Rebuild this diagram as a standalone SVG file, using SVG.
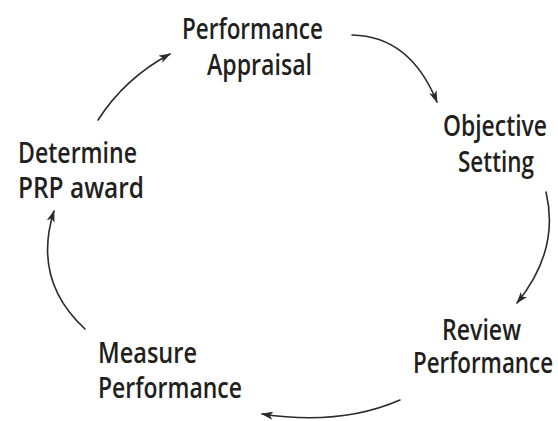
<svg xmlns="http://www.w3.org/2000/svg" width="558" height="421" viewBox="0 0 558 421">
  <style>
    .lbl { font-family: "Open Sans", "Noto Sans", "Liberation Sans", sans-serif; font-size: 29px; font-weight: 600; fill: #231f20; }
    .conn { fill: none; stroke: #2b2b2b; stroke-width: 1.6; stroke-linecap: round; }
  </style>
  <defs>
    <marker id="head" viewBox="0 0 12 8" refX="11" refY="4" markerWidth="12" markerHeight="8" markerUnits="userSpaceOnUse" orient="auto">
      <path d="M0,0 L12,4 L0,8 L3,4 Z" fill="#2b2b2b"/>
    </marker>
  </defs>
  <rect width="558" height="421" fill="#ffffff"/>

  <g id="connectors">
    <path class="conn" d="M352,35 Q410,36 437,102" marker-end="url(#head)"/>
    <path class="conn" d="M546,192 Q560,250 517,303" marker-end="url(#head)"/>
    <path class="conn" d="M400,400 Q340,426 262,414" marker-end="url(#head)"/>
    <path class="conn" d="M85,329 Q32,280 54,211" marker-end="url(#head)"/>
    <path class="conn" d="M98,120 Q125,78 170,54" marker-end="url(#head)"/>
  </g>

  <g id="performance-appraisal">
    <text class="lbl" x="182" y="39" textLength="141" lengthAdjust="spacingAndGlyphs">Performance</text>
    <text class="lbl" x="207" y="75" textLength="105" lengthAdjust="spacingAndGlyphs">Appraisal</text>
  </g>
  <g id="objective-setting">
    <text class="lbl" x="443" y="136" textLength="104" lengthAdjust="spacingAndGlyphs">Objective</text>
    <text class="lbl" x="458" y="172" textLength="76" lengthAdjust="spacingAndGlyphs">Setting</text>
  </g>
  <g id="review-performance">
    <text class="lbl" x="442" y="340" textLength="79" lengthAdjust="spacingAndGlyphs">Review</text>
    <text class="lbl" x="413" y="373" textLength="140" lengthAdjust="spacingAndGlyphs">Performance</text>
  </g>
  <g id="measure-performance">
    <text class="lbl" x="98" y="363" textLength="99" lengthAdjust="spacingAndGlyphs">Measure</text>
    <text class="lbl" x="98" y="398" textLength="144" lengthAdjust="spacingAndGlyphs">Performance</text>
  </g>
  <g id="determine-prp-award">
    <text class="lbl" x="18" y="163" textLength="119" lengthAdjust="spacingAndGlyphs">Determine</text>
    <text class="lbl" x="18" y="198" textLength="126" lengthAdjust="spacingAndGlyphs">PRP award</text>
  </g>
</svg>
